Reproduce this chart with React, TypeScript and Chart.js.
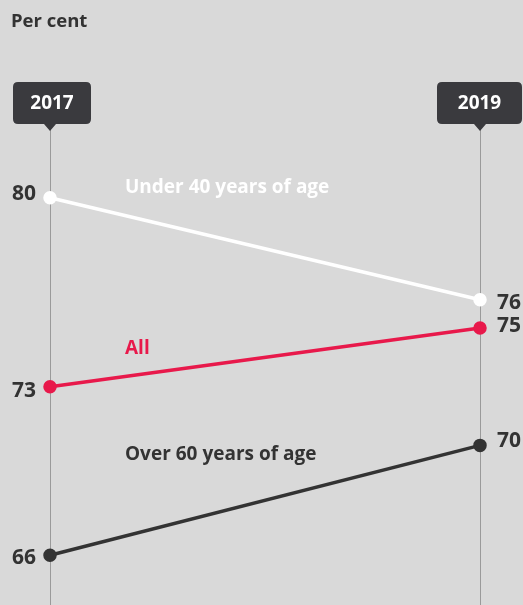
import React, { useEffect, useRef } from "react";
import { Chart, registerables } from "chart.js";

Chart.register(...registerables);

const years = ["2017", "2019"];
const under40 = [80, 76];
const allAges = [72.6, 74.9];
const over60 = [66, 70.3];
const under40Labels = ["80", "76"];
const allLabels = ["73", "75"];
const over60Labels = ["66", "70"];
const seriesNames = ["Under 40 years of age", "All", "Over 60 years of age"];
const unitLabel = "Per cent";

const FONT = "'Open Sans', 'Noto Sans', sans-serif";
const BG = "#d9d9d9";
const DARK = "#333333";
const RED = "#e8194b";
const WHITE = "#ffffff";
const TAG = "#3a3a3e";

const decor = {
  id: "decor",
  beforeDatasetsDraw(chart: any) {
    const ctx = chart.ctx;
    const xs = chart.scales.x;
    ctx.save();
    ctx.strokeStyle = "#9a9a9a";
    ctx.lineWidth = 1;
    years.forEach((_, i) => {
      const x = Math.round(xs.getPixelForValue(i)) + 0.5;
      ctx.beginPath();
      ctx.moveTo(x, 128);
      ctx.lineTo(x, chart.height);
      ctx.stroke();
    });
    const tags = [
      { l: 13, r: 91 },
      { l: 437, r: 522 },
    ];
    years.forEach((y, i) => {
      const cx = xs.getPixelForValue(i);
      const { l, r } = tags[i];
      const top = 82, bot = 124, rad = 5;
      ctx.fillStyle = TAG;
      ctx.beginPath();
      ctx.moveTo(l + rad, top);
      ctx.lineTo(r - rad, top);
      ctx.quadraticCurveTo(r, top, r, top + rad);
      ctx.lineTo(r, bot - rad);
      ctx.quadraticCurveTo(r, bot, r - rad, bot);
      ctx.lineTo(cx + 6, bot);
      ctx.lineTo(cx, bot + 7);
      ctx.lineTo(cx - 6, bot);
      ctx.lineTo(l + rad, bot);
      ctx.quadraticCurveTo(l, bot, l, bot - rad);
      ctx.lineTo(l, top + rad);
      ctx.quadraticCurveTo(l, top, l + rad, top);
      ctx.closePath();
      ctx.fill();
      ctx.fillStyle = WHITE;
      ctx.font = `bold 19px ${FONT}`;
      ctx.textAlign = "center";
      ctx.textBaseline = "middle";
      ctx.fillText(y, (l + r) / 2, 104);
    });
    ctx.fillStyle = DARK;
    ctx.font = `bold 18.5px ${FONT}`;
    ctx.textAlign = "left";
    ctx.textBaseline = "alphabetic";
    ctx.fillText(unitLabel, 11, 27);
    ctx.restore();
  },
  afterDatasetsDraw(chart: any) {
    const ctx = chart.ctx;
    ctx.save();
    const valueLabels = [under40Labels, allLabels, over60Labels];
    const leftOff = [-4, 4, 3];
    const rightOff = [3, -2, -4];
    ctx.font = `bold 21px ${FONT}`;
    ctx.fillStyle = DARK;
    ctx.textBaseline = "middle";
    chart.data.datasets.forEach((ds: any, di: number) => {
      const meta = chart.getDatasetMeta(di);
      const p0 = meta.data[0];
      const p1 = meta.data[1];
      ctx.textAlign = "right";
      ctx.fillText(valueLabels[di][0], p0.x - 14, p0.y + leftOff[di]);
      ctx.textAlign = "left";
      ctx.fillText(valueLabels[di][1], p1.x + 17, p1.y + rightOff[di]);
    });
    const nameOff = [-28, -28, -81];
    const nameColors = [WHITE, RED, DARK];
    ctx.font = `bold 19px ${FONT}`;
    ctx.textAlign = "left";
    chart.data.datasets.forEach((ds: any, di: number) => {
      const meta = chart.getDatasetMeta(di);
      const p0 = meta.data[0];
      const p1 = meta.data[1];
      const x = 125;
      const t = (x - p0.x) / (p1.x - p0.x);
      const ly = p0.y + t * (p1.y - p0.y);
      ctx.fillStyle = nameColors[di];
      ctx.fillText(seriesNames[di], x, ly + nameOff[di]);
    });
    ctx.restore();
  },
};

export default function App() {
  const ref = useRef<HTMLCanvasElement>(null);
  useEffect(() => {
    if (!ref.current) return;
    const mk = (data: number[], color: string) => ({
      data,
      borderColor: color,
      backgroundColor: color,
      pointBackgroundColor: color,
      pointBorderColor: color,
      borderWidth: 3.5,
      pointRadius: 5,
      pointHoverRadius: 5,
      tension: 0,
      clip: false as any,
    });
    const chart = new Chart(ref.current, {
      type: "line",
      data: {
        labels: years,
        datasets: [mk(under40, WHITE), mk(allAges, RED), mk(over60, DARK)],
      },
      options: {
        animation: false,
        responsive: false,
        events: [],
        layout: { autoPadding: false, padding: { left: 50, right: 43, top: 130, bottom: 0 } },
        plugins: { legend: { display: false }, tooltip: { enabled: false } },
        scales: {
          x: { type: "category", offset: false, display: false },
          y: { type: "linear", min: 64.05, max: 82.65, display: false },
        },
      },
      plugins: [decor],
    });
    return () => chart.destroy();
  }, []);
  return (
    <div
      style={{
        position: "absolute",
        left: 0,
        top: 0,
        width: 523,
        height: 605,
        background: BG,
        overflow: "hidden",
      }}
    >
      <canvas ref={ref} width={523} height={605} style={{ display: "block" }} />
    </div>
  );
}
